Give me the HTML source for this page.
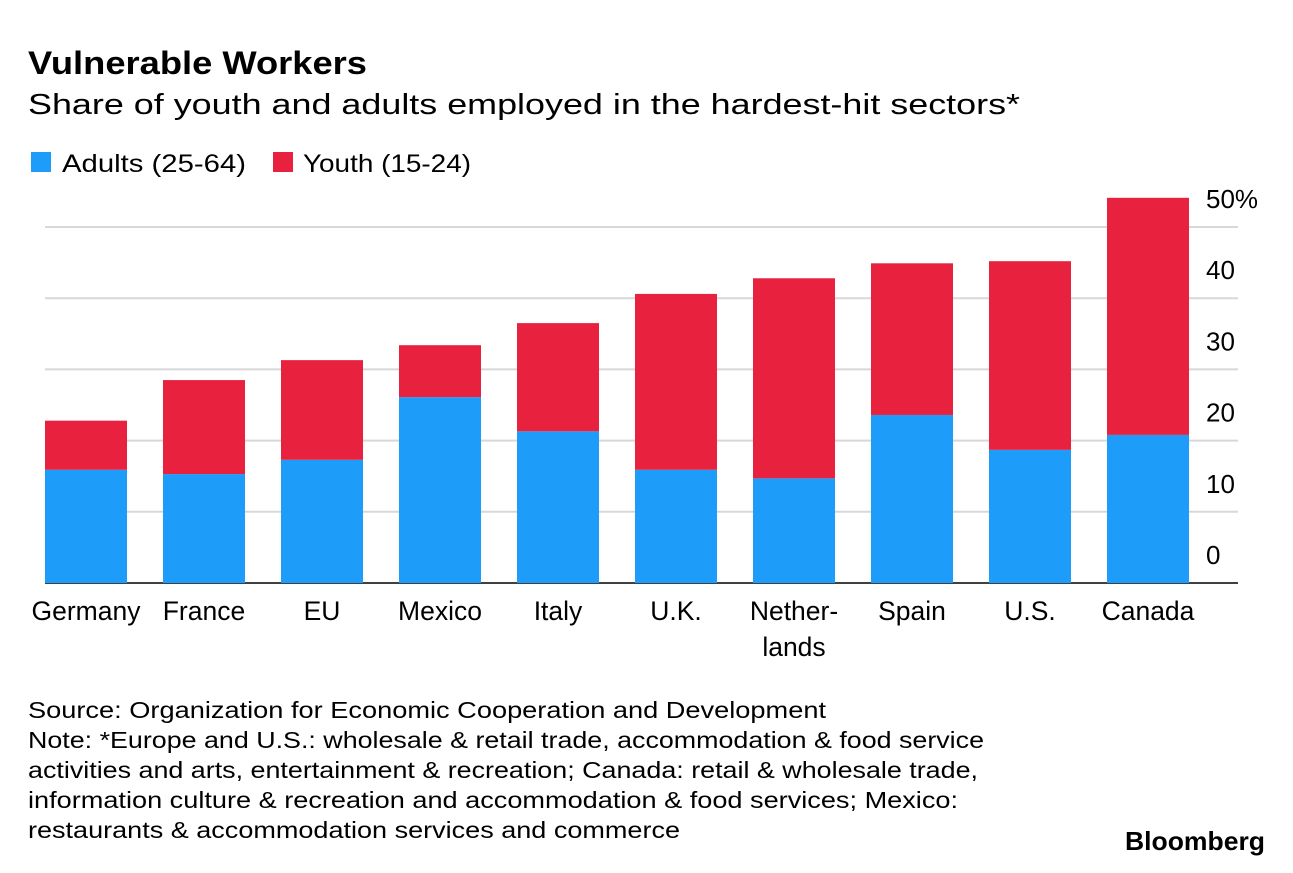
<!DOCTYPE html>
<html><head><meta charset="utf-8"><style>
body{margin:0;background:#fff;width:1293px;height:868px;overflow:hidden;font-family:"Liberation Sans",Arial,sans-serif;color:#000}
</style></head><body>
<svg id="c" width="1293" height="868" font-family="Liberation Sans, Arial, sans-serif">
<text x="28" y="74" font-size="32" font-weight="bold" textLength="339" lengthAdjust="spacingAndGlyphs">Vulnerable Workers</text>
<text x="28" y="114" font-size="29" textLength="992" lengthAdjust="spacingAndGlyphs">Share of youth and adults employed in the hardest-hit sectors*</text>
<g>
<rect x="31" y="152" width="20" height="20" fill="#1d9cf9"/>
<text x="62" y="172" font-size="25" textLength="184" lengthAdjust="spacingAndGlyphs">Adults (25-64)</text>
<rect x="273" y="152" width="20" height="20" fill="#e8213f"/>
<text x="303" y="172" font-size="25" textLength="168" lengthAdjust="spacingAndGlyphs">Youth (15-24)</text>
</g>
<g id="grid"></g><g id="bars"></g><g id="labels"></g>
<g font-size="23" fill="#000">
<text x="28" y="718" textLength="798" lengthAdjust="spacingAndGlyphs">Source: Organization for Economic Cooperation and Development</text>
<text x="28" y="748" textLength="956" lengthAdjust="spacingAndGlyphs">Note: *Europe and U.S.: wholesale &amp; retail trade, accommodation &amp; food service</text>
<text x="28" y="778" textLength="950" lengthAdjust="spacingAndGlyphs">activities and arts, entertainment &amp; recreation; Canada: retail &amp; wholesale trade,</text>
<text x="28" y="808" textLength="930" lengthAdjust="spacingAndGlyphs">information culture &amp; recreation and accommodation &amp; food services; Mexico:</text>
<text x="28" y="838" textLength="652" lengthAdjust="spacingAndGlyphs">restaurants &amp; accommodation services and commerce</text>
</g>
<text x="1125" y="850" font-size="26" font-weight="bold" textLength="140" lengthAdjust="spacingAndGlyphs">Bloomberg</text>
</svg>
<script>
const categories=["Germany","France","EU","Mexico","Italy","U.K.","Nether-|lands","Spain","U.S.","Canada"];
const adults=[15.9,15.3,17.3,26.1,21.3,15.9,14.7,23.6,18.7,20.8];
const youth=[6.9,13.2,14.0,7.3,15.2,24.7,28.1,21.3,26.5,33.3];
const ticks=[0,10,20,30,40,50];
const tickLabels=["0","10","20","30","40","50%"];
const NS="http://www.w3.org/2000/svg";
const y0=583,pxPer=7.12;
function y(v){return y0-v*pxPer;}
function x(i){return 45+i*118;}
const bw=82;
function mk(tag,attrs,parent){const e=document.createElementNS(NS,tag);for(const k in attrs)e.setAttribute(k,attrs[k]);parent.appendChild(e);return e;}
const grid=document.getElementById('grid'),bars=document.getElementById('bars'),labels=document.getElementById('labels');
ticks.forEach((t,i)=>{
 const l=mk('line',{x1:45,x2:1238,y1:y(t),y2:y(t),stroke:t===0?'#000':'#d8d8d8','stroke-width':t===0?1.5:2},grid);
 
 
 const tx=mk('text',{x:1206,y:y(t)-19,'font-size':26},grid);
 tx.textContent=tickLabels[i];
 
 
});
categories.forEach((c,i)=>{
 const a=mk('rect',{x:x(i),y:y(adults[i]),width:bw,height:y(0)-y(adults[i]),fill:'#1d9cf9'},bars);
 
 
 const tot=adults[i]+youth[i];
 const r=mk('rect',{x:x(i),y:y(tot),width:bw,height:y(adults[i])-y(tot),fill:'#e8213f'},bars);
 
 
 const parts=c.split('|');
 parts.forEach((p,j)=>{
  const t=mk('text',{x:x(i)+bw/2,y:620+j*36,'font-size':26.5,'text-anchor':'middle'},labels);
  t.textContent=p;
  
  
 });
});
</script>
</body></html>
